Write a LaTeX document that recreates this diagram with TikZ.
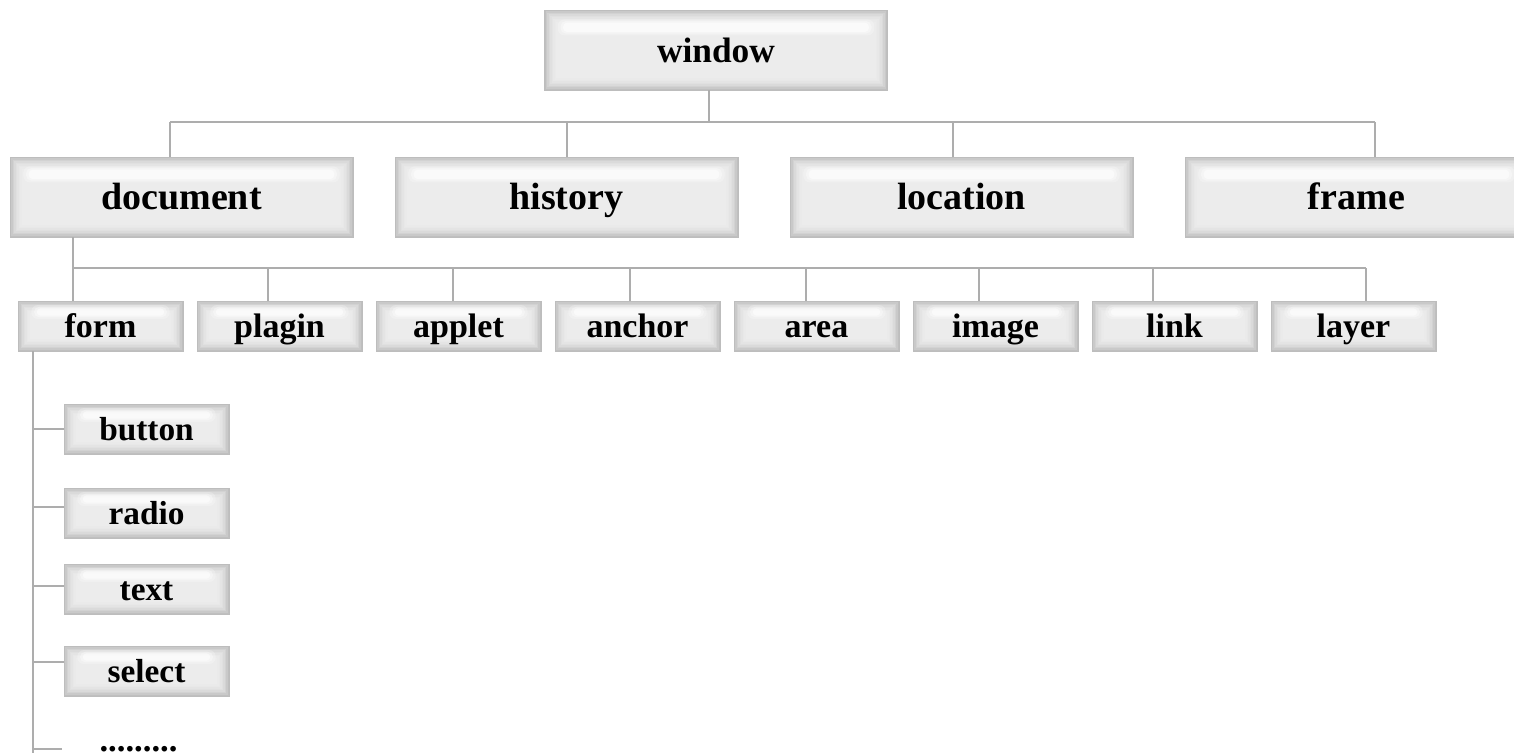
\documentclass[tikz,border=0pt]{standalone}
\usepackage{fontspec}
\setmainfont{Liberation Serif}
\begin{document}
\begin{tikzpicture}[x=0.75pt,y=-0.75pt,
  hlpos/.code 2 args={\def\hltop{#1}\def\hlbot{#2}},
  gloss/.style={draw=black!26, line width=0.5pt, inner sep=0pt, text=black,
    text depth=0pt,
    path picture={
      \foreach \i/\c in {0/25,1/21,2/17.5,3/14.5,4/12,5/10.5,6/9.2,7/8.3,8/7.6}{
        \fill[black!\c] ([shift={(\i*1.1pt,\i*1.1pt)}]path picture bounding box.south west)
          rectangle ([shift={(-\i*1.1pt,-\i*1.1pt)}]path picture bounding box.north east);}
      \fill[white,opacity=0.25,rounded corners=5pt]
        ([xshift=10pt,yshift=-\hltop+2.5pt]path picture bounding box.north west)
        rectangle ([xshift=-10pt,yshift=-\hlbot-2.5pt]path picture bounding box.north east);
      \fill[white,opacity=0.35,rounded corners=4pt]
        ([xshift=12pt,yshift=-\hltop+1.2pt]path picture bounding box.north west)
        rectangle ([xshift=-12pt,yshift=-\hlbot-1.2pt]path picture bounding box.north east);
      \fill[white,opacity=0.55,rounded corners=3pt]
        ([xshift=14pt,yshift=-\hltop]path picture bounding box.north west)
        rectangle ([xshift=-14pt,yshift=-\hlbot]path picture bounding box.north east);
    }},
  bigbox/.style={gloss, hlpos={9.5pt}{16.5pt}, minimum width=257.25pt, minimum height=60pt,
    font=\fontsize{28.5}{30}\selectfont\bfseries, text height=19.4pt},
  topbox/.style={bigbox, font=\fontsize{26.5}{28}\selectfont\bfseries, text height=18pt},
  smallbox/.style={gloss, hlpos={5.5pt}{11pt}, minimum width=123.75pt, minimum height=37.5pt,
    font=\fontsize{25.5}{27}\selectfont\bfseries, text height=17.6pt},
  colbox/.style={smallbox, font=\fontsize{25}{27}\selectfont\bfseries, text height=17.4pt},
  conn/.style={draw=black!32, line width=1.1pt}
]
\useasboundingbox (0,0) rectangle (1514,753);
\fill[white] (0,0) rectangle (1514,753);

% nodes
\node[topbox] (window) at (716,50) {window};

\node[bigbox] (document) at (181.5,197) {document};
\node[bigbox] (history) at (566.5,197) {history};
\node[bigbox] (location) at (961.5,197) {location};
\node[bigbox] (frame) at (1356.5,197) {frame};

\node[smallbox] (form) at (100.5,326) {form};
\node[smallbox] (plagin) at (279.5,326) {plagin};
\node[smallbox] (applet) at (458.5,326) {applet};
\node[smallbox] (anchor) at (637.5,326) {anchor};
\node[smallbox] (area) at (816.5,326) {area};
\node[smallbox] (image) at (995.5,326) {image};
\node[smallbox] (link) at (1174.5,326) {link};
\node[smallbox] (layer) at (1353.5,326) {layer};

\node[colbox] (button) at (146.5,429) {button};
\node[colbox] (radio) at (146.5,513) {radio};
\node[colbox] (text) at (146.5,589) {text};
\node[colbox] (select) at (146.5,671) {select};
\node[anchor=base, inner sep=0pt, minimum width=114.75pt, text depth=0pt, text height=4pt,
  font=\fontsize{26}{27}\selectfont\bfseries] (more) at (138.5,751) {.........};

% bus 1
\coordinate (w1) at (709,122);
\coordinate (b1L) at (170,122);
\coordinate (b1R) at (1375,122);
\coordinate (b1h) at (567,122);
\coordinate (b1l) at (953,122);
\draw[conn] (window.south -| w1) -- (w1);
\draw[conn] (b1L) -- (b1R);
\draw[conn] (b1L) -- (b1L |- document.north);
\draw[conn] (b1h) -- (b1h |- history.north);
\draw[conn] (b1l) -- (b1l |- location.north);
\draw[conn] (b1R) -- (b1R |- frame.north);

% bus 2
\coordinate (b2L) at (73,268);
\coordinate (b2R) at (1366,268);
\draw[conn] (document.south -| b2L) -- (b2L);
\draw[conn] (b2L) -- (b2R);
\foreach \n/\x in {form/73,plagin/268,applet/453,anchor/630,area/806,image/979,link/1153,layer/1366}{
  \coordinate (d\n) at (\x,268);
  \draw[conn] (d\n) -- (d\n |- \n.north);
}

% spine
\coordinate (sp) at (33,760);
\draw[conn] (form.south -| sp) -- (sp);
\foreach \n/\y in {button/429,radio/507,text/586,select/662,more/749}{
  \coordinate (br\n) at (33,\y);
  \draw[conn] (br\n) -- (br\n -| \n.west);
}
\end{tikzpicture}
\end{document}
